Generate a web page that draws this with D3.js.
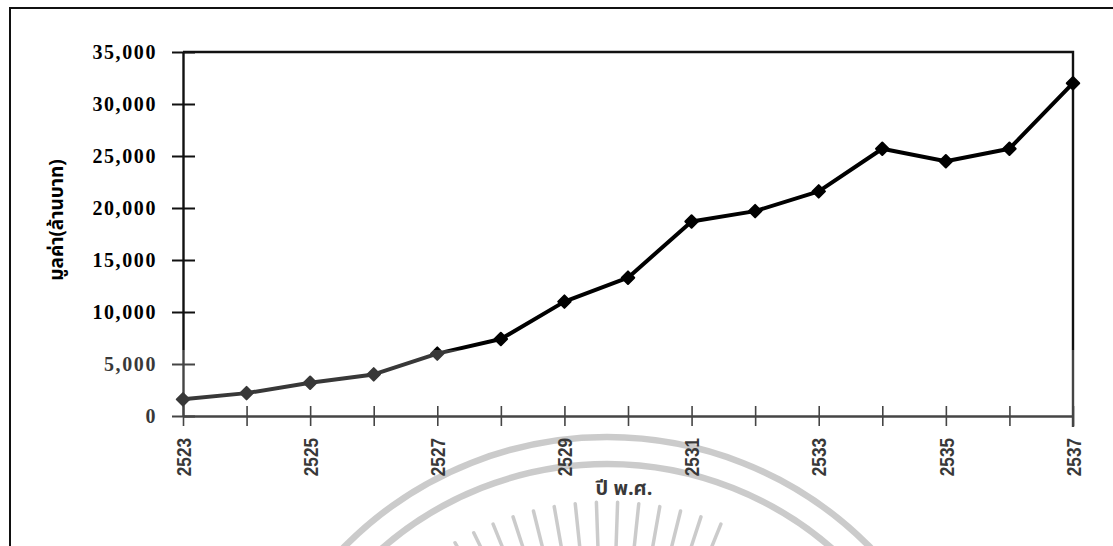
<!DOCTYPE html>
<html>
<head>
<meta charset="utf-8">
<script src="https://cdn.jsdelivr.net/npm/d3@7"></script>
<style>
  html, body { margin: 0; padding: 0; background: #fff; }
  svg { display: block; }
</style>
</head>
<body>
<svg id="chart" width="1113" height="546"></svg>
<script>
// Annual value (million baht), B.E. 2523–2537
const years = [2523, 2524, 2525, 2526, 2527, 2528, 2529, 2530, 2531, 2532, 2533, 2534, 2535, 2536, 2537];
const values = [1600, 2200, 3200, 4000, 6000, 7400, 11000, 13300, 18700, 19700, 21600, 25700, 24500, 25700, 32000];
const yTicks = [0, 5000, 10000, 15000, 20000, 25000, 30000, 35000];
const xTickLabels = [2523, 2525, 2527, 2529, 2531, 2533, 2535, 2537];
const yTitle = "มูลค่า(ล้านบาท)";
const xTitle = "ปี พ.ศ.";

const W = 1113, H = 546;
const plot = { left: 183, right: 1073, top: 52, bottom: 416 };
const thaiFont = "'Noto Sans Thai', 'Noto Serif Thai', 'Loma', 'Garuda', 'Norasi', 'Tlwg Typo', 'DejaVu Sans', sans-serif";

const svg = d3.select("#chart");

// faint seal in the background
const seal = svg.append("g").attr("fill", "none").attr("stroke", "#bdbdbd");
const cx = 607, cy = 806;
[369, 342].forEach(r => {
  seal.append("circle").attr("cx", cx).attr("cy", cy).attr("r", r).attr("stroke-width", 6.5);
});
d3.range(68, 126, 4).forEach(a => {
  const t = a * Math.PI / 180;
  seal.append("line")
    .attr("x1", cx + Math.cos(t) * 250).attr("y1", cy - Math.sin(t) * 250)
    .attr("x2", cx + Math.cos(t) * 304).attr("y2", cy - Math.sin(t) * 304)
    .attr("stroke-width", 3.5).attr("stroke-linecap", "round");
});

// page frame
svg.append("path")
  .attr("d", `M10,${H} V8 H${W}`)
  .attr("fill", "none").attr("stroke", "#111").attr("stroke-width", 2);

const x = d3.scaleLinear().domain([years[0], years[years.length - 1]]).range([plot.left, plot.right]);
const y = d3.scaleLinear().domain([0, 35000]).range([plot.bottom, plot.top]);

// plot box (top and right edges)
svg.append("path")
  .attr("d", `M${plot.left},${plot.top} H${plot.right} V${plot.bottom + 11}`)
  .attr("fill", "none").attr("stroke", "#111").attr("stroke-width", 2.4);

// y axis
const yAxis = svg.append("g")
  .attr("transform", `translate(${plot.left},0)`)
  .call(d3.axisLeft(y).tickValues(yTicks).tickFormat(d3.format(","))
    .tickSizeInner(11).tickSizeOuter(0).tickPadding(15));
yAxis.select(".domain").attr("stroke", "#111").attr("stroke-width", 2.4);
yAxis.selectAll(".tick line").attr("x1", 12).attr("stroke", "#111").attr("stroke-width", 2);
yAxis.selectAll(".tick text")
  .attr("fill", "#000")
  .style("font-family", "'Liberation Serif', 'Times New Roman', serif")
  .style("font-weight", "bold").style("font-size", "20px").style("letter-spacing", "1.6px");

// x axis
const xAxis = svg.append("g")
  .attr("transform", `translate(0,${plot.bottom})`)
  .call(d3.axisBottom(x).tickValues(years)
    .tickFormat(d => xTickLabels.includes(d) ? String(d) : "")
    .tickSizeInner(10).tickSizeOuter(0));
xAxis.select(".domain").attr("stroke", "#111").attr("stroke-width", 2.4);
xAxis.selectAll(".tick line").attr("y1", -10).attr("stroke", "#111").attr("stroke-width", 1.6);
const sx = 0.86;
xAxis.selectAll(".tick text")
  .attr("fill", "#000")
  .attr("transform", `rotate(-90) scale(${sx},1)`)
  .attr("text-anchor", "end")
  .attr("x", -22 / sx).attr("y", 0).attr("dy", "0.36em")
  .style("font-family", "'Liberation Sans', Arial, sans-serif")
  .style("font-weight", "bold").style("font-size", "20px");

// series line and markers
const line = d3.line().x((d, i) => x(years[i])).y(d => y(d));
svg.append("path")
  .datum(values)
  .attr("d", line)
  .attr("fill", "none").attr("stroke", "#000").attr("stroke-width", 4)
  .attr("stroke-linejoin", "round");

svg.append("g").selectAll("path")
  .data(values)
  .join("path")
  .attr("d", d3.symbol(d3.symbolSquare, 78))
  .attr("transform", (d, i) => `translate(${x(years[i])},${y(d)}) rotate(45)`)
  .attr("fill", "#000").attr("stroke", "#000").attr("stroke-width", 2)
  .attr("stroke-linejoin", "round");

// axis titles
svg.append("text")
  .attr("transform", `translate(57,${(plot.top + plot.bottom) / 2 - 14}) rotate(-90)`)
  .attr("text-anchor", "middle").attr("dominant-baseline", "central")
  .style("font-family", thaiFont).style("font-weight", "bold").style("font-size", "19px")
  .attr("fill", "#000")
  .text(yTitle);

svg.append("text")
  .attr("x", 624).attr("y", 495)
  .attr("text-anchor", "middle")
  .style("font-family", thaiFont).style("font-weight", "bold").style("font-size", "20px")
  .attr("fill", "#000")
  .text(xTitle);

// the lower-left part of the sheet is printed a shade lighter
svg.append("rect")
  .attr("x", 53).attr("y", 350).attr("width", W - 53).attr("height", H - 350)
  .attr("fill", "#fff").attr("opacity", 0.22);
</script>
</body>
</html>
